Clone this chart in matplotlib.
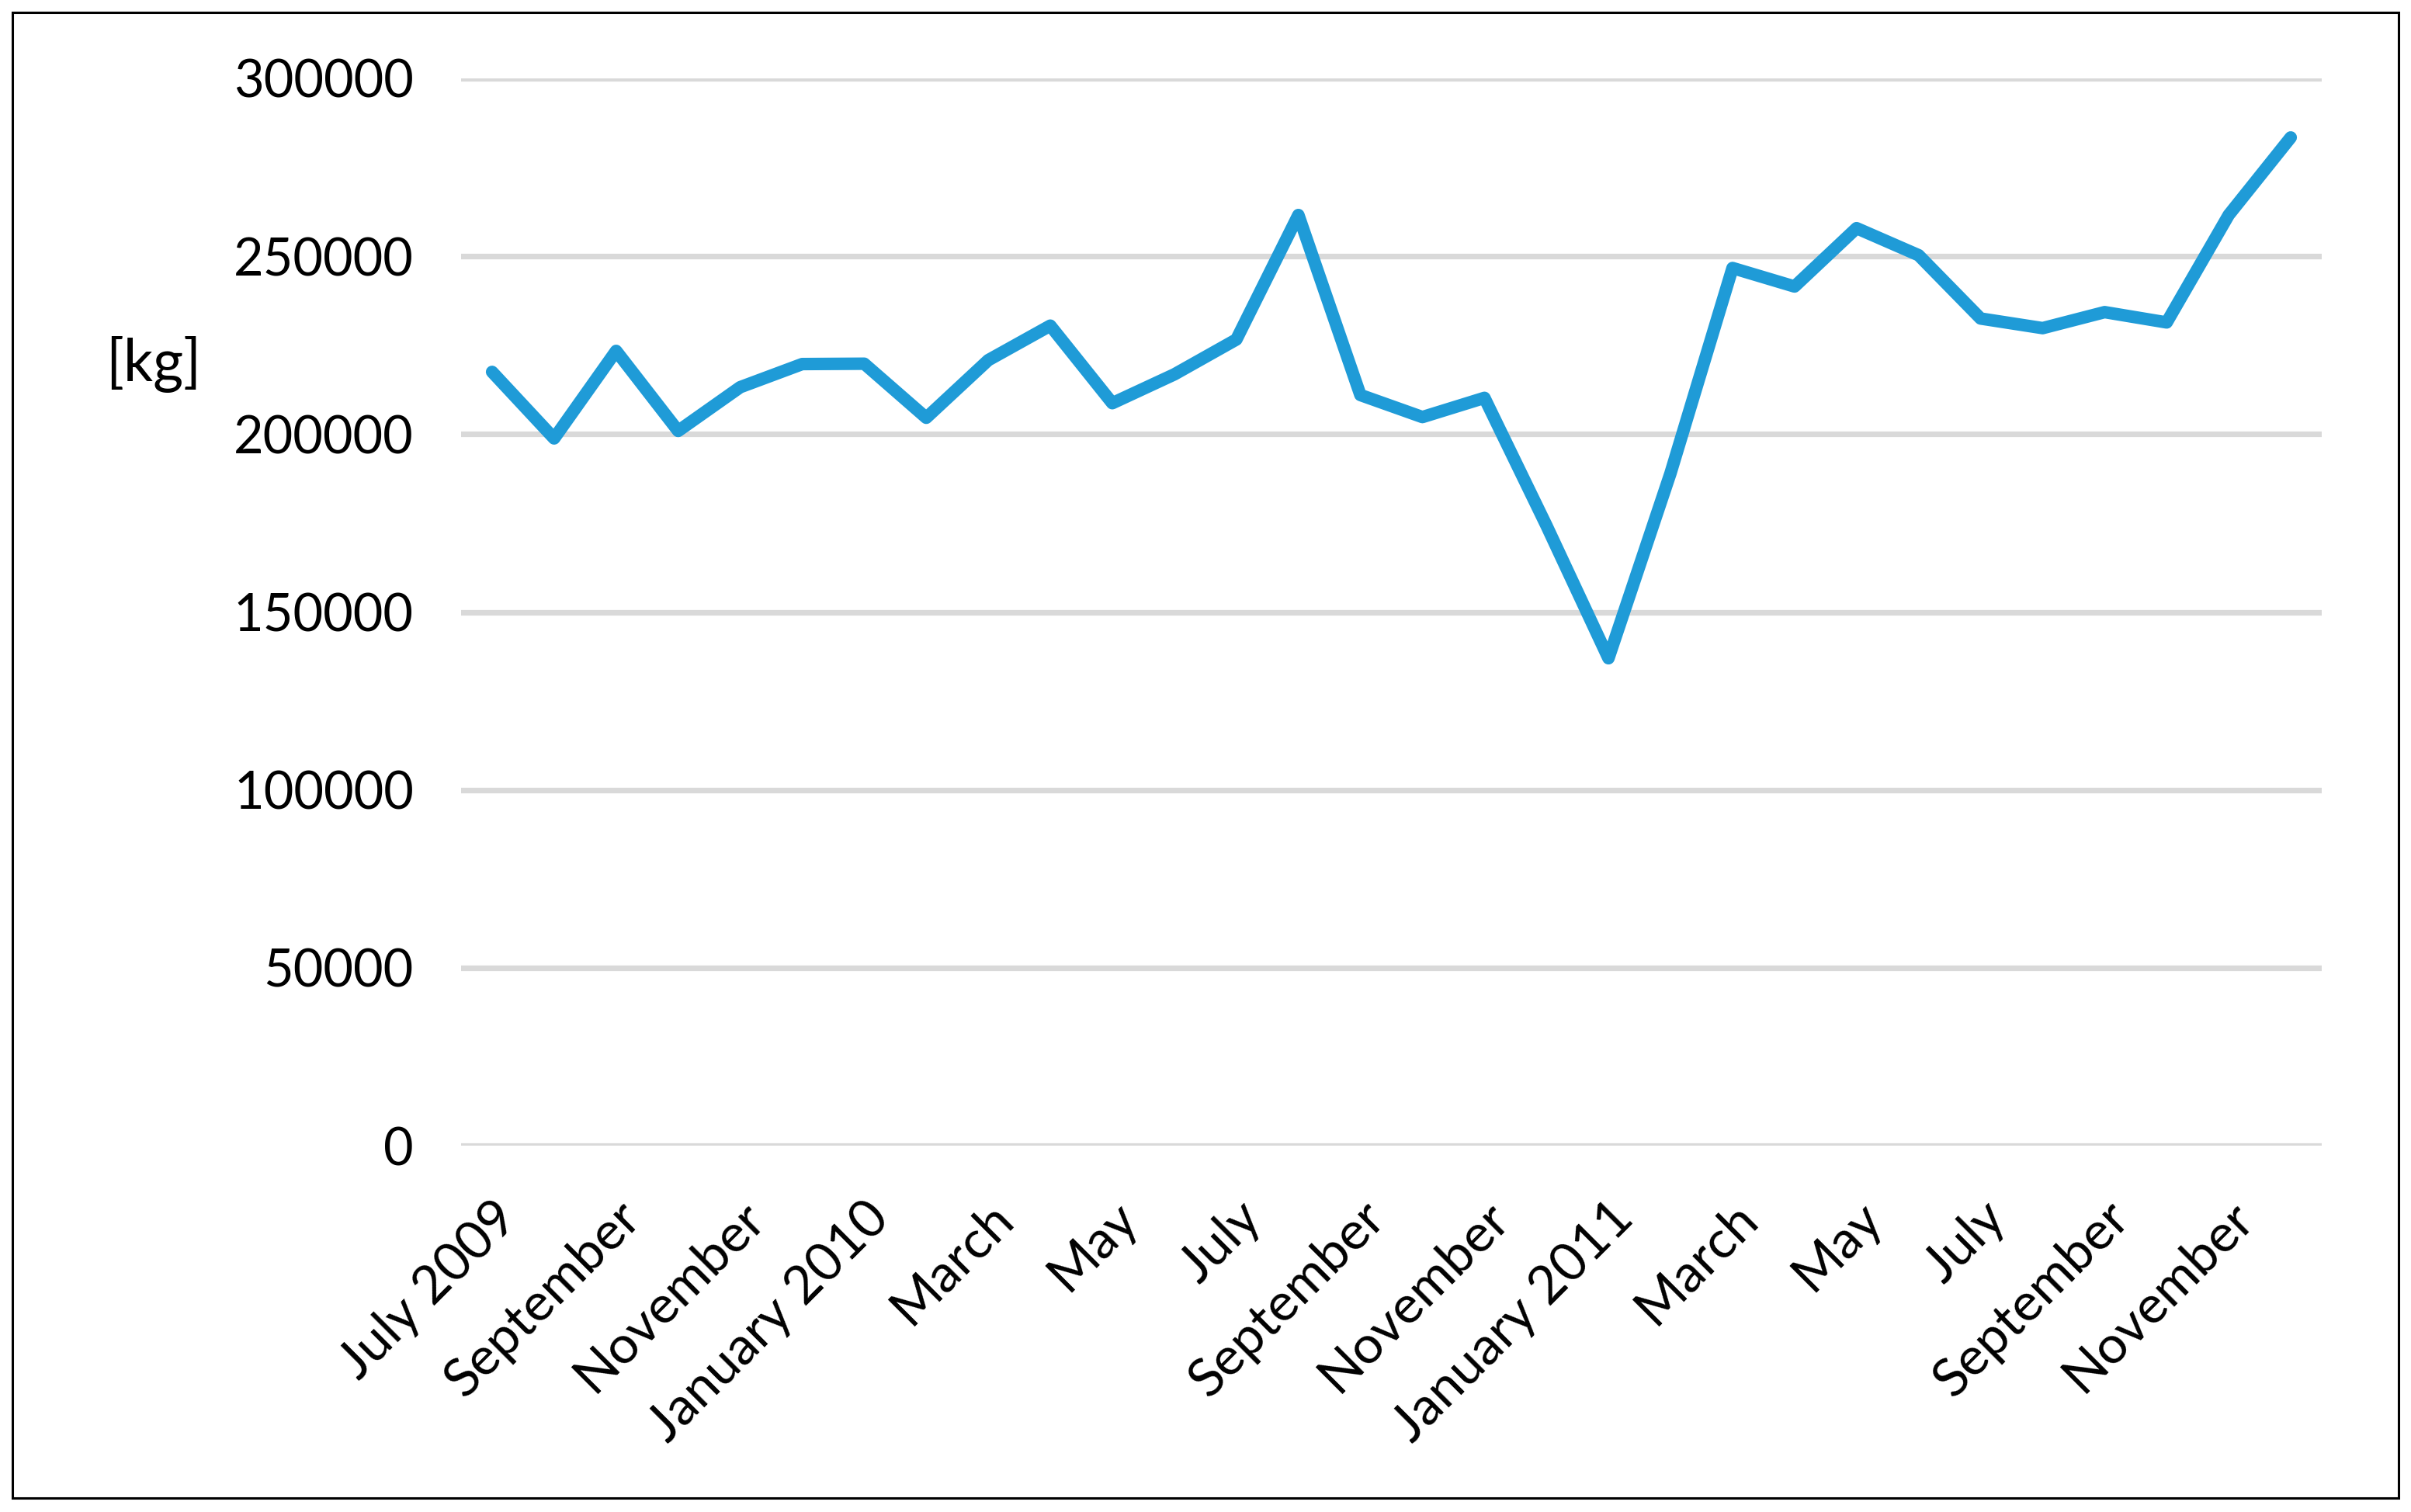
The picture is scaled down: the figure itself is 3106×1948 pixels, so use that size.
import matplotlib
matplotlib.use("Agg")
import matplotlib.pyplot as plt
from matplotlib.patches import Rectangle

months = ["July 2009", "August", "September", "October", "November", "December",
          "January 2010", "February", "March", "April", "May", "June",
          "July", "August", "September", "October", "November", "December",
          "January 2011", "February", "March", "April", "May", "June",
          "July", "August", "September", "October", "November", "December"]
values = [217500, 198800, 223400, 200900, 213200, 219700, 219800, 204600, 220800, 230500,
          208700, 216800, 226600, 261600, 211000, 204800, 210200, 174300, 137000, 189000,
          246700, 241500, 257900, 250300, 232500, 229800, 234300, 231400, 261600, 283400]
yticks = [0, 50000, 100000, 150000, 200000, 250000, 300000]
ylabel = "[kg]"

plt.rcParams['font.family'] = ['Lato', 'DejaVu Sans']

W, H = 3106, 1948
dpi = 200
fig = plt.figure(figsize=(W / dpi, H / dpi), dpi=dpi)
fig.patch.set_facecolor("white")

left, right = 594 / W, 2991 / W
top, bottom = 1 - 101 / H, 1 - 1476 / H
ax = fig.add_axes([left, bottom, right - left, top - bottom])

x = list(range(len(values)))
for t in yticks:
    ax.axhline(t, color="#d9d9d9", linewidth=2.6, zorder=1)
ax.plot(x, values, color="#1f9bd7", linewidth=5.8, solid_capstyle="round",
        solid_joinstyle="round", zorder=3)

ax.set_xlim(-0.5, len(values) - 0.5)
ax.set_ylim(0, 300000)
ax.set_yticks(yticks)
ax.set_yticklabels([str(t) for t in yticks], fontsize=24)
ax.set_xticks(x[::2])
ax.set_xticklabels(months[::2], rotation=45, ha="right", rotation_mode="anchor", fontsize=24.5)
ax.tick_params(axis="both", length=0)
ax.tick_params(axis="y", pad=22)
ax.tick_params(axis="x", pad=22)
for s in ax.spines.values():
    s.set_visible(False)
ax.set_facecolor("none")

fig.text(198 / W, 1 - 470 / H, ylabel, fontsize=27, ha="center", va="center")

fig.add_artist(Rectangle((16 / W, 1 - 1930 / H), (3090 - 16) / W, (1930 - 16) / H,
                         transform=fig.transFigure, fill=False, edgecolor="black",
                         linewidth=1.1))

fig.savefig("out.png", dpi=dpi, facecolor="white")
